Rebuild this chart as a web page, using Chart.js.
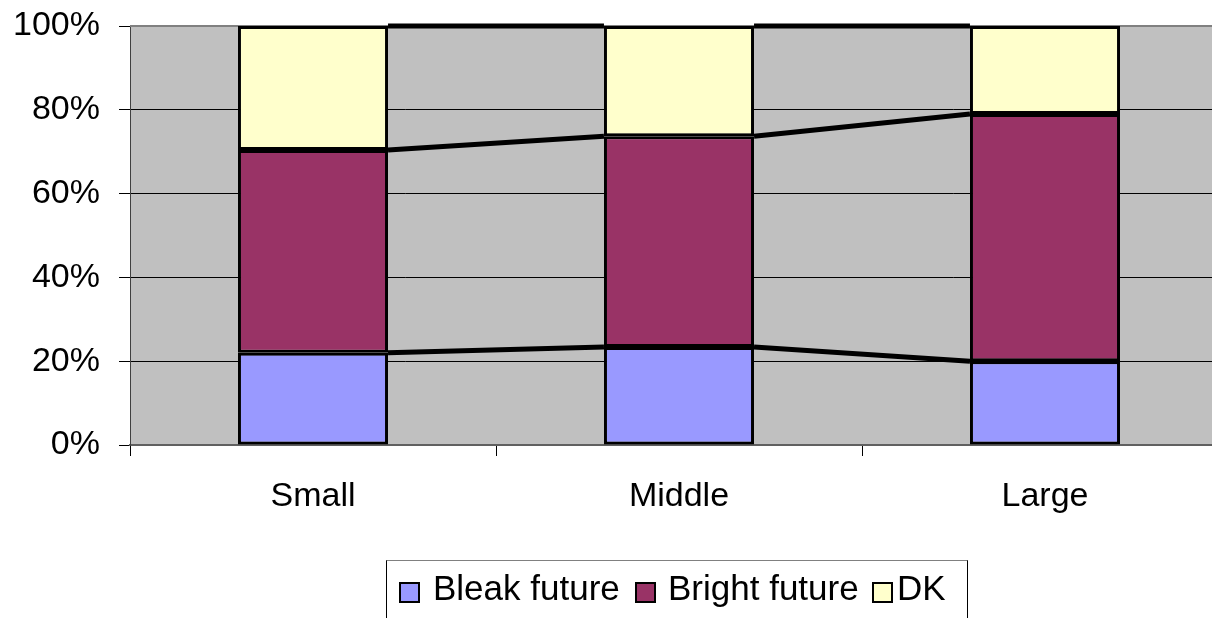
<!DOCTYPE html>
<html>
<head>
<meta charset="utf-8">
<script src="https://cdn.jsdelivr.net/npm/chart.js@4/dist/chart.umd.min.js"></script>
<style>
  html, body { margin: 0; padding: 0; background: #fff; overflow: hidden; width: 1212px; height: 618px; }
  #wrap { position: absolute; left: 0; top: 0; width: 1240px; height: 618px; }
  #legend { position: absolute; left: 386px; top: 560px; width: 580px; height: 80px;
            border-top: 1px solid #808080; border-left: 1px solid #000; border-right: 1px solid #000;
            font-family: "Liberation Sans", Arial, sans-serif; font-size: 35px; color: #000; }
  .sw { position: absolute; top: 21px; width: 17px; height: 17px; border: 2px solid #000; }
  .lt { position: absolute; top: 9px; line-height: 35px; white-space: nowrap; }
</style>
</head>
<body>
<div id="wrap"><canvas id="c" width="1240" height="618"></canvas></div>
<div id="legend"></div>
<script>
const categories = ["Small", "Middle", "Large"];
const bleakFuture = [22.0, 23.4, 20.0];
const brightFuture = [48.4, 50.3, 59.0];
const dk = [29.6, 26.3, 21.0];
const seriesNames = ["Bleak future", "Bright future", "DK"];
const seriesColors = ["#9999FF", "#993366", "#FFFFCC"];
const yTicks = [0, 20, 40, 60, 80, 100];

const FONT = "'Liberation Sans', Arial, sans-serif";

const plotBg = {
  id: "plotBg",
  beforeDraw(chart) {
    const a = chart.chartArea, ctx = chart.ctx;
    ctx.save();
    ctx.fillStyle = "#C0C0C0";
    ctx.fillRect(a.left, a.top, a.right - a.left, a.bottom - a.top);
    ctx.restore();
  },
  beforeDatasetsDraw(chart) {
    const a = chart.chartArea, ctx = chart.ctx;
    ctx.save();
    ctx.strokeStyle = "#808080";
    ctx.lineWidth = 2;
    ctx.beginPath();
    ctx.moveTo(a.left, a.top);
    ctx.lineTo(a.right, a.top);
    ctx.stroke();
    ctx.restore();
  },
  afterDatasetsDraw(chart) {
    const ctx = chart.ctx;
    ctx.save();
    ctx.strokeStyle = "#000";
    ctx.lineWidth = 5;
    ctx.lineCap = "butt";
    chart.data.datasets.forEach((ds, di) => {
      const meta = chart.getDatasetMeta(di);
      for (let i = 0; i < meta.data.length - 1; i++) {
        const b1 = meta.data[i], b2 = meta.data[i + 1];
        ctx.beginPath();
        ctx.moveTo(b1.x + b1.width / 2, b1.y);
        ctx.lineTo(b2.x - b2.width / 2, b2.y);
        ctx.stroke();
      }
    });
    ctx.restore();
  }
};

const values = [bleakFuture, brightFuture, dk];
new Chart(document.getElementById("c"), {
  type: "bar",
  data: {
    labels: categories,
    datasets: values.map((v, i) => ({
      label: seriesNames[i],
      data: v,
      backgroundColor: seriesColors[i],
      borderColor: "#000",
      borderWidth: 3,
      borderSkipped: false,
      barPercentage: 0.41,
      categoryPercentage: 1.0
    }))
  },
  options: {
    responsive: false,
    animation: false,
    events: [],
    layout: { padding: { top: 26, right: 12, left: 0, bottom: 0 } },
    plugins: { legend: { display: false }, tooltip: { enabled: false } },
    scales: {
      x: {
        stacked: true,
        offset: true,
        afterFit(s) { s.height = 173; s.paddingLeft = 0; s.paddingRight = 0; },
        grid: { drawOnChartArea: false, offset: true, color: "#000", tickLength: 11, lineWidth: 1 },
        border: { display: true, color: "#606060", width: 2 },
        ticks: { color: "#000", font: { family: FONT, size: 34 }, padding: 20, maxRotation: 0 }
      },
      y: {
        stacked: true,
        min: 0, max: 100,
        afterFit(s) { s.width = 130; s.paddingTop = 0; s.paddingBottom = 0; },
        afterBuildTicks(s) { s.ticks = yTicks.map(v => ({ value: v })); },
        grid: { color: "#000", lineWidth: 1, tickLength: 11 },
        border: { display: true, color: "#404040", width: 1 },
        ticks: { color: "#000", font: { family: FONT, size: 34 }, padding: 19, callback: v => v + "%" }
      }
    }
  },
  plugins: [plotBg]
});

// HTML legend
const leg = document.getElementById("legend");
const swX = [12, 248, 485];
const txX = [46, 281, 510];
seriesNames.forEach((n, i) => {
  const s = document.createElement("div");
  s.className = "sw"; s.style.left = swX[i] + "px"; s.style.background = seriesColors[i];
  leg.appendChild(s);
  const t = document.createElement("div");
  t.className = "lt"; t.style.left = txX[i] + "px"; t.textContent = n;
  leg.appendChild(t);
});
</script>
</body>
</html>
